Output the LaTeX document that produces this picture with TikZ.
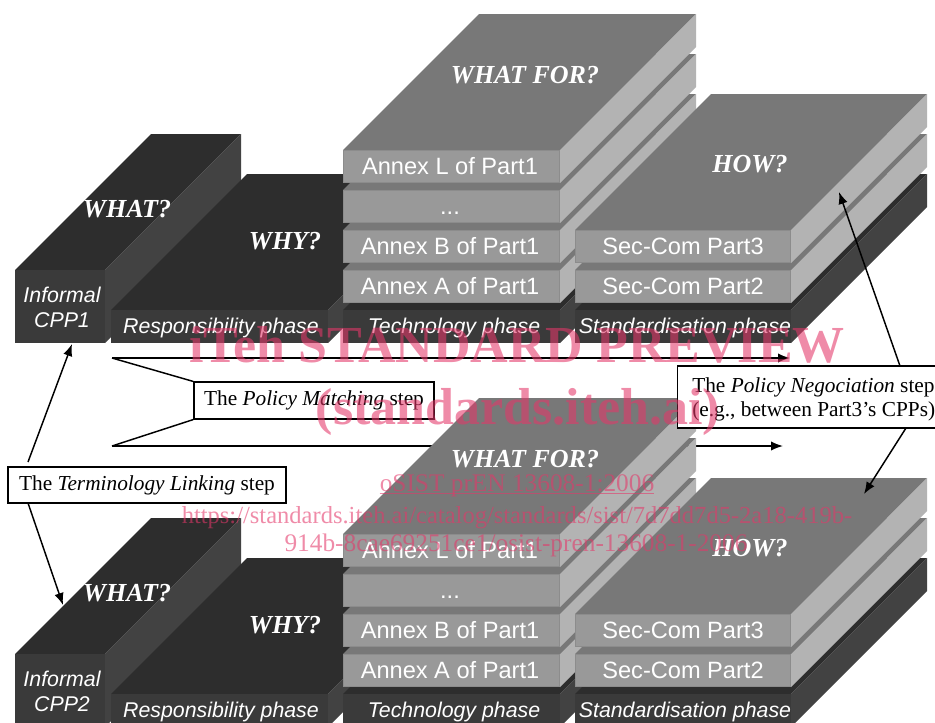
\documentclass[tikz,border=0pt]{standalone}
\usepackage{fontspec}
\setmainfont{Liberation Serif}
\setsansfont{Liberation Sans}
\usetikzlibrary{arrows.meta}
\definecolor{dkTop}{HTML}{2D2D2D}
\definecolor{dkFront}{HTML}{3A3A3A}
\definecolor{dkSide}{HTML}{424242}
\definecolor{gyTop}{HTML}{787878}
\definecolor{gyFront}{HTML}{999999}
\definecolor{gyEdge}{HTML}{8C8C8C}
\definecolor{gySide}{HTML}{B3B3B3}
\definecolor{wmPink}{RGB}{228,55,105}
% #1 x left, #2 x right, #3 y top of front, #4 y bottom of front, #5 top, #6 front, #7 side
\newcommand\slab[7]{%
  \fill[#5] (#1,#3) -- (#1+136,#3-136) -- (#2+136,#3-136) -- (#2,#3) -- cycle;
  \fill[#7] (#2,#3) -- (#2+136,#3-136) -- (#2+136,#4-136) -- (#2,#4) -- cycle;
  \fill[#6] (#1,#3) rectangle (#2,#4);
}
\newcommand\gyslab[3]{\slab{#1}{#2}{#3}{#3+33}{gyTop}{gyFront}{gySide}
  \draw[gyEdge,line width=.8pt] (#1+.5,#3+.5) rectangle (#2-.5,#3+32.5);}
\newcommand\scene[3]{% #1 y offset, #2 CPP label, #3 name suffix
  \begin{scope}[yshift=#1*-0.75pt]
  \slab{15}{105}{270}{343}{dkTop}{dkFront}{dkSide}
  \slab{111}{328}{310}{343}{dkTop}{dkFront}{dkSide}
  \slab{343}{560}{310}{343}{dkTop}{dkFront}{dkSide}
  \gyslab{343}{560}{270}
  \gyslab{343}{560}{230}
  \gyslab{343}{560}{190}
  \gyslab{343}{560}{150}
  \slab{575}{791}{310}{343}{dkTop}{dkFront}{dkSide}
  \gyslab{575}{791}{270}
  \gyslab{575}{791}{230}
  \node[facetxt,font=\phasefont,align=center] (cppa#3) at (62,302) {Informal};
  \node[facetxt,font=\phasefont] (cppb#3) at (62,327) {#2};
  \node[facetxt,font=\phasefont] (resp#3) at (221,333) {Responsibility phase};
  \node[facetxt,font=\phasefont] (tech#3) at (454,333) {Technology phase};
  \node[facetxt,font=\phasefont] (stan#3) at (685,333) {Standardisation phase};
  \node[facetxt,font=\annexfont] (anl#3) at (450,174) {Annex L of Part1};
  \node[facetxt,font=\annexfont] (dots#3) at (450,214) {...};
  \node[facetxt,font=\annexfont] (anb#3) at (450,254) {Annex B of Part1};
  \node[facetxt,font=\annexfont] (ana#3) at (450,294) {Annex A of Part1};
  \node[facetxt,font=\annexfont] (sc3#3) at (683,254) {Sec-Com Part3};
  \node[facetxt,font=\annexfont] (sc2#3) at (683,294) {Sec-Com Part2};
  \node[facetxt,font=\askfont] (what#3) at (127,217) {WHAT?};
  \node[facetxt,font=\askfont] (why#3) at (285,249) {WHY?};
  \node[facetxt,font=\askfont] (whatfor#3) at (525,83) {WHAT FOR?};
  \node[facetxt,font=\askfont] (how#3) at (750,172) {HOW?};
  \end{scope}
}
\newcommand\phasefont{\sffamily\itshape\fontsize{16}{18}\selectfont}
\newcommand\annexfont{\sffamily\fontsize{17.7}{20}\selectfont}
\newcommand\askfont{\rmfamily\itshape\bfseries\fontsize{19.5}{22}\selectfont}
\tikzset{
  facetxt/.style={text=white,anchor=base,inner sep=0pt},
  stepbox/.style={draw=black,fill=white,line width=1.1pt,inner sep=0pt,font=\rmfamily\fontsize{16}{18}\selectfont},
  flow/.style={draw=black,line width=1.1pt},
  flowarr/.style={flow,-{Latex[length=9pt,width=7pt]}},
  wm/.style={text=wmPink,opacity=.58,text opacity=.58,inner sep=0pt,anchor=base,font=\rmfamily},
}
\begin{document}
\begin{tikzpicture}[x=0.75pt,y=-0.75pt]
\useasboundingbox (0,0) rectangle (935,722);
\clip (0,0) rectangle (935,722);
\scene{0}{CPP1}{u}
\coordinate (topstart) at (112,358);
\coordinate (topend) at (790,358);
\coordinate (lowstart) at (112,446);
\coordinate (lowend) at (783,446);
\draw[flowarr] (topstart) -- (topend);
\draw[flowarr] (lowstart) -- (lowend);
\scene{384}{CPP2}{d}
\node[stepbox,minimum width=180pt,minimum height=27.5pt] (match) at (314,400.5) {\raisebox{-1.5pt}{The \textit{Policy Matching} step}};
\node[stepbox,minimum width=208.5pt,minimum height=27pt] (term) at (147,485) {The \textit{Terminology Linking} step};
\node[stepbox,anchor=west,minimum width=204pt,minimum height=46.5pt,align=left,inner xsep=9pt] (nego) at (677,397) {\rule{0pt}{14.5pt}The \textit{Policy Negociation} step\\(e.g., between Part3’s CPPs)};
\draw[flow] (topstart) -- (match.north west);
\draw[flow] (lowstart) -- (match.south west);
\coordinate (t1) at (28,462);
\coordinate (t2) at (72,344);
\coordinate (t3) at (28,503);
\coordinate (t4) at (63,605);
\coordinate (n1) at (900,366);
\coordinate (n2) at (839,192);
\coordinate (n3) at (906,428);
\coordinate (n4) at (864,494);
\draw[flowarr] (t1) -- (t2);
\draw[flowarr] (t3) -- (t4);
\draw[flowarr] (n1) -- (n2);
\draw[flowarr] (n3) -- (n4);
\node[wm,font=\rmfamily\bfseries\fontsize{39}{42}\selectfont] (wm1) at (517,362) {iTeh STANDARD PREVIEW};
\node[wm,font=\rmfamily\bfseries\fontsize{39}{42}\selectfont] (wm2) at (518,424) {(standards.iteh.ai)};
\node[wm,font=\rmfamily\fontsize{19}{22}\selectfont] (wm3) at (517,491) {oSIST prEN 13608-1:2006};
\draw[wmPink,opacity=.58,line width=.8pt] ([yshift=-1.6pt]wm3.base west) -- ([yshift=-1.6pt]wm3.base east);
\node[wm,font=\rmfamily\fontsize{18.4}{22}\selectfont] (wm4) at (517,523) {https://standards.iteh.ai/catalog/standards/sist/7d7dd7d5-2a18-419b-};
\node[wm,font=\rmfamily\fontsize{19}{22}\selectfont] (wm5) at (516,551) {914b-8cae69251ce1/osist-pren-13608-1-2006};
\end{tikzpicture}
\end{document}
